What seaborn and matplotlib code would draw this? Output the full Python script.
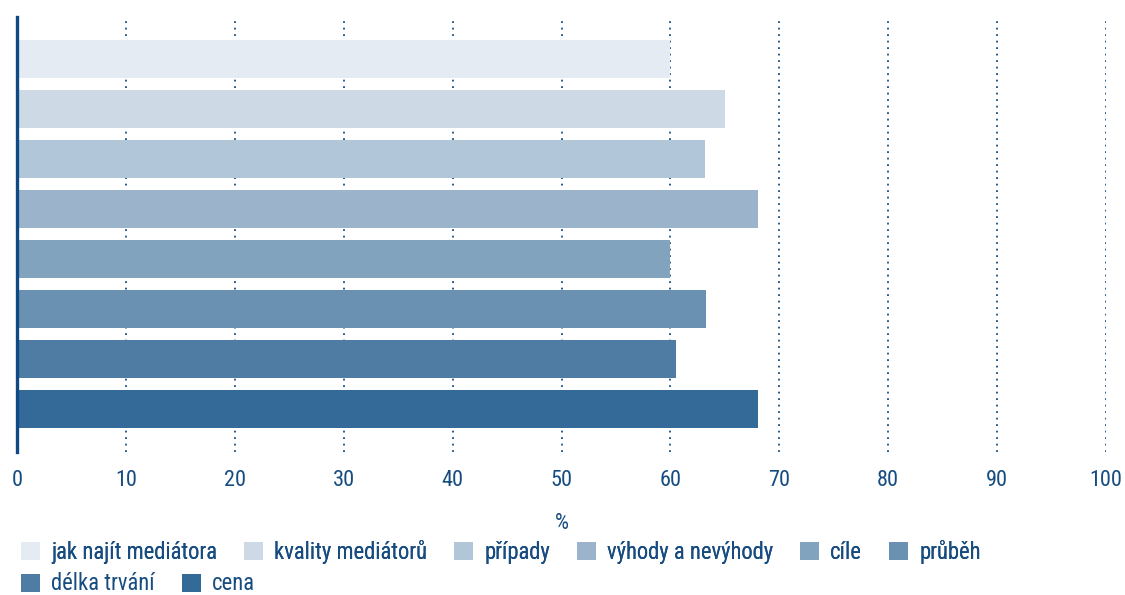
import pandas as pd
import seaborn as sns
import matplotlib.pyplot as plt

sns.set_theme(style="white")
plt.rcParams['font.family'] = ['Roboto Condensed', 'DejaVu Sans']
plt.rcParams['font.weight'] = 'normal'

# Data
categories = ["jak najít mediátora", "kvality mediátorů", "případy", "výhody a nevýhody",
              "cíle", "průběh", "délka trvání", "cena"]
values = [60.0, 65.0, 63.2, 68.0, 60.0, 63.3, 60.5, 68.0]
colors = ["#e4ebf2", "#cddae5", "#b1c6d8", "#9bb4cb", "#82a3bd", "#6a91b2", "#4e7ca3", "#346a97"]
x_ticks = [0, 10, 20, 30, 40, 50, 60, 70, 80, 90, 100]

text_color = "#174c80"

df = pd.DataFrame({"cat": categories, "val": values})

fig = plt.figure(figsize=(11.25, 5.95), dpi=100)
ax = fig.add_axes([17 / 1125, 1 - 452 / 595, (1106 - 17) / 1125, (452 - 17) / 595])

# dotted vertical grid behind the bars
for t in x_ticks[1:]:
    ax.axvline(t, color=text_color, linestyle=(0, (1, 2.6)), linewidth=1.3, zorder=0)

sns.barplot(data=df, x="val", y="cat", hue="cat", palette=colors, orient="h",
            width=0.76, dodge=False, saturation=1, legend=False, ax=ax, zorder=2, linewidth=0)

ax.set_xlim(0, 100)
ax.set_ylim(7.86, -0.84)
ax.set_xticks(x_ticks)
ax.set_xticklabels([str(t) for t in x_ticks])
ax.tick_params(axis="x", length=0, pad=13, labelsize=16, labelcolor=text_color)
ax.set_yticks([])
ax.set_ylabel("")
ax.set_xlabel("%", fontsize=16, color=text_color, labelpad=16)

for s in ["top", "right", "bottom"]:
    ax.spines[s].set_visible(False)
ax.spines["left"].set_color("#0d4a85")
ax.spines["left"].set_linewidth(2.4)
ax.grid(False)

# legend in two rows, flowing left to right
handles = [plt.Rectangle((0, 0), 1, 1, facecolor=c, edgecolor="none") for c in colors]
leg_kw = dict(frameon=False, fontsize=16.3, handlelength=0.84, handleheight=0.84,
              handletextpad=0.49, columnspacing=1.19, borderpad=0, borderaxespad=0,
              labelcolor=text_color)
leg1 = fig.legend(handles[:6], categories[:6], ncol=6, loc="center left",
                  bbox_to_anchor=(21 / 1125, 1 - 552 / 595), **leg_kw)
fig.legend(handles[6:], categories[6:], ncol=2, loc="center left",
           bbox_to_anchor=(21 / 1125, 1 - 584 / 595), **leg_kw)
fig.add_artist(leg1)

fig.savefig("out.png", dpi=100)
